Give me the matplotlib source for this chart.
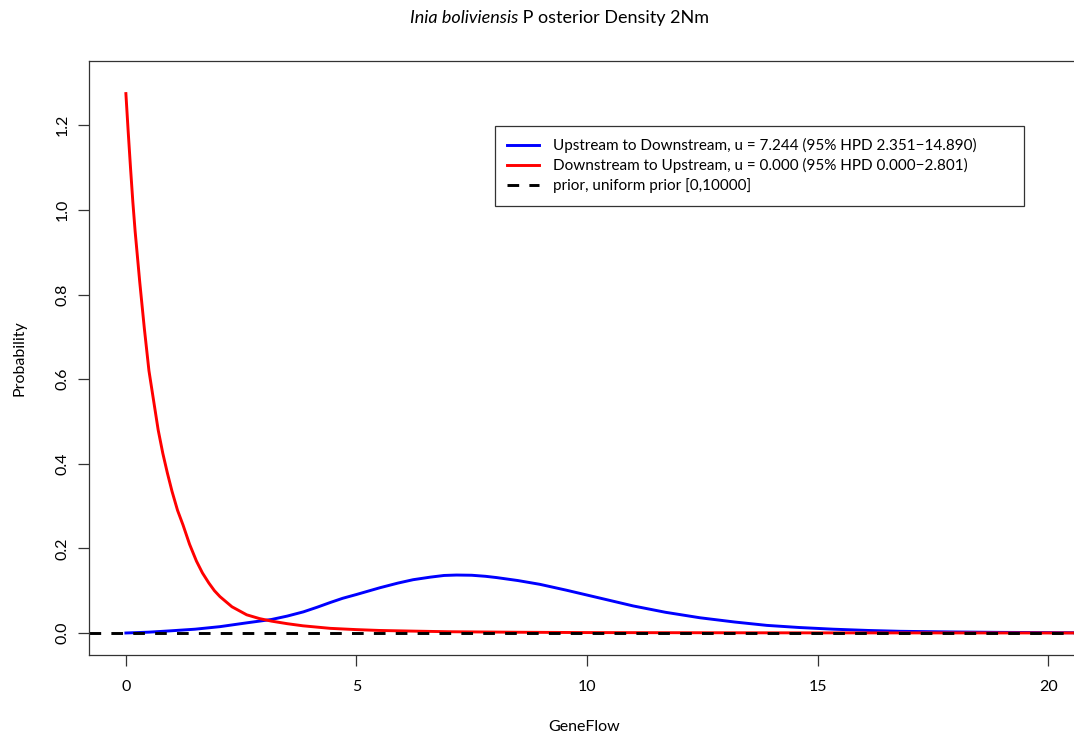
import matplotlib
matplotlib.use("Agg")
import matplotlib.pyplot as plt

plt.rcParams['font.family'] = ['Lato', 'DejaVu Sans']

# values
up_x = [0.0, 0.5, 0.95, 1.5, 2.04, 2.62, 3.16, 3.5, 3.85, 4.15, 4.43, 4.7,
        5.0, 5.51, 5.9, 6.23, 6.6, 6.9, 7.17, 7.5, 7.8, 8.04, 8.5, 8.98,
        9.56, 10.3, 11.0, 11.7, 12.45, 13.2, 13.9, 14.6, 15.34, 16.1, 16.8,
        17.9, 18.96, 20.8]
up_y = [0.0, 0.002, 0.005, 0.009, 0.015, 0.024, 0.032, 0.040, 0.050, 0.061,
        0.072, 0.082, 0.091, 0.107, 0.118, 0.126, 0.132, 0.136, 0.137, 0.1365,
        0.134, 0.131, 0.124, 0.115, 0.101, 0.082, 0.064, 0.049, 0.036, 0.026,
        0.018, 0.013, 0.009, 0.006, 0.004, 0.0025, 0.0015, 0.0005]

down_x = [0.0, 0.05, 0.1, 0.15, 0.2, 0.3, 0.4, 0.5, 0.6, 0.7, 0.8, 0.9, 1.0,
          1.12, 1.24, 1.38, 1.53, 1.66, 1.8, 1.92, 2.04, 2.3, 2.62, 2.9, 3.16,
          3.5, 3.84, 4.43, 5.0, 5.5, 6.2, 7.0, 8.5, 10.0, 12.5, 15.0, 20.8]
down_y = [1.275, 1.185, 1.10, 1.02, 0.95, 0.83, 0.72, 0.62, 0.55, 0.48, 0.425,
          0.378, 0.335, 0.29, 0.255, 0.21, 0.17, 0.142, 0.118, 0.10, 0.086,
          0.062, 0.043, 0.034, 0.028, 0.022, 0.017, 0.011, 0.008, 0.006,
          0.0045, 0.003, 0.0018, 0.001, 0.0006, 0.0003, 0.0001]

prior_y = 0.0001

labels = ['Upstream to Downstream, u = 7.244 (95% HPD 2.351\u221214.890)         ',
          'Downstream to Upstream, u = 0.000 (95% HPD 0.000\u22122.801)',
          'prior, uniform prior [0,10000]']

W, H = 1074, 738
fig = plt.figure(figsize=(W / 100, H / 100), dpi=100)
# plot region runs past the right edge of the image, as in the reference
ax = fig.add_axes([89 / W, 1 - 655 / H, (1085 - 89) / W, (655 - 61) / H])

l1, = ax.plot(up_x, up_y, color='#0000ff', lw=2.1)
l2, = ax.plot(down_x, down_y, color='#ff0000', lw=2.1)
l3 = ax.axhline(prior_y, color='black', lw=2.1, ls=(0, (4, 3.5)))

ax.set_xlim(-0.8, 20.8)
ax.set_ylim(-0.052, 1.352)
ax.set_xticks([0, 5, 10, 15, 20])
ax.set_yticks([0.0, 0.2, 0.4, 0.6, 0.8, 1.0, 1.2])
ax.set_yticklabels(['0.0', '0.2', '0.4', '0.6', '0.8', '1.0', '1.2'],
                   rotation=90, va='center')
ax.tick_params(axis='both', length=8, width=0.9, labelsize=11.5, color='#333333')
ax.tick_params(axis='x', pad=10)
ax.tick_params(axis='y', pad=6)
for s in ax.spines.values():
    s.set_linewidth(0.9)
    s.set_color('#333333')

fig.text(584 / W, 1 - 727 / H, 'GeneFlow', ha='center', va='center', fontsize=11.5)
fig.text(20 / W, 1 - 358 / H, 'Probability', ha='center', va='center',
         rotation=90, fontsize=11.5)

t1 = fig.text(410 / W, 1 - 18 / H, 'Inia boliviensis', style='italic',
              ha='left', va='center', fontsize=13)
ax.annotate(' P osterior Density 2Nm', xy=(1, 0.5), xycoords=t1,
            ha='left', va='center', fontsize=13, annotation_clip=False)

leg = ax.legend([l1, l2, l3], labels, loc='upper left',
                bbox_to_anchor=(495 / W, 1 - 126 / H), bbox_transform=fig.transFigure,
                borderaxespad=0, fancybox=False, framealpha=1, edgecolor='#333333',
                fontsize=11, handlelength=2.1, handletextpad=0.9,
                labelspacing=0.33, borderpad=0.8)
leg.get_frame().set_linewidth(0.9)

fig.savefig('out.png', dpi=100)
